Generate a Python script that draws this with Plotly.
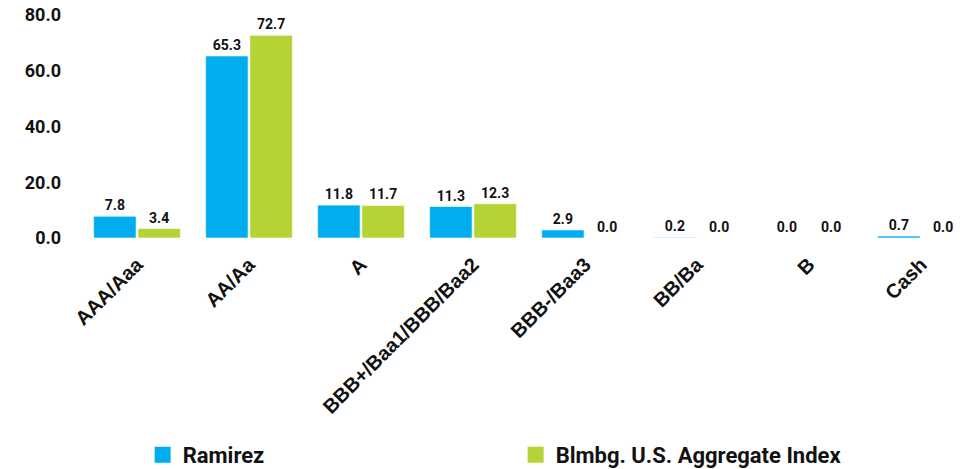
import plotly.graph_objects as go

categories = ["AAA/Aaa", "AA/Aa", "A", "BBB+/Baa1/BBB/Baa2", "BBB-/Baa3", "BB/Ba", "B", "Cash"]
ramirez = [7.8, 65.3, 11.8, 11.3, 2.9, 0.2, 0.0, 0.7]
aggregate = [3.4, 72.7, 11.7, 12.3, 0.0, 0.0, 0.0, 0.0]
y_ticks = [0, 20, 40, 60, 80]

BLUE = "#00AEEF"
GREEN = "#B4D335"
INK = "#111111"

series = [("Ramirez", ramirez, BLUE),
          ("Blmbg. U.S. Aggregate Index", aggregate, GREEN)]

fig = go.Figure()
for name, vals, color in series:
    fig.add_trace(go.Bar(
        x=categories, y=vals, name=name, legendgroup=name, showlegend=False,
        marker=dict(color=color, line=dict(color="rgba(255,255,255,0.6)", width=1)),
        text=[f"{v:.1f}" for v in vals],
        textposition="outside",
        textfont=dict(family="Roboto", size=14, color=INK, weight="bold"),
        cliponaxis=False,
    ))

# square legend keys, one per series
for name, vals, color in series:
    fig.add_trace(go.Scatter(
        x=[None], y=[None], mode="markers", name=name, legendgroup=name,
        marker=dict(symbol="square", size=16, color=color),
    ))

fig.update_layout(
    width=977, height=469,
    margin=dict(l=81, r=0, t=15, b=231),
    paper_bgcolor="white", plot_bgcolor="white",
    barmode="group", bargap=0.21, bargroupgap=0.04,
    showlegend=True,
    legend=dict(
        orientation="h", xref="container", yref="container",
        x=0.146, y=0.03, xanchor="left", yanchor="middle",
        entrywidth=328, entrywidthmode="pixels",
        font=dict(family="Roboto", size=22, color=INK, weight="bold"),
        itemwidth=30, itemsizing="trace",
    ),
    xaxis=dict(
        tickangle=-45, showgrid=False, showline=False, zeroline=False,
        tickfont=dict(family="Liberation Sans", size=20, color=INK, weight="bold"),
        ticklabelstandoff=10,
        range=[-0.5, 7.5],
    ),
    yaxis=dict(
        range=[0, 80], tickvals=y_ticks, tickformat=".1f",
        showgrid=False, showline=False, zeroline=False,
        tickfont=dict(family="Roboto", size=18, color=INK, weight="bold"),
        ticklabelstandoff=19,
    ),
)

fig.write_html("out.html")
